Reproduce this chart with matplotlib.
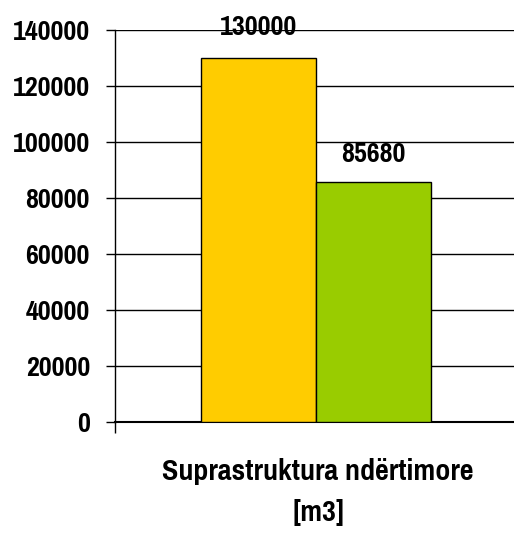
import matplotlib.pyplot as plt

# Datos
series = ["Serie 1", "Serie 2"]
valores = [130000, 85680]
categoria = "Suprastruktura ndërtimore\n[m3]"
colores = ["#FFCC00", "#99CC00"]

FUENTE = ["Pragati Narrow", "Roboto Condensed", "DejaVu Sans"]
plt.rcParams["font.family"] = FUENTE
plt.rcParams["font.weight"] = "bold"
TAM = 22

fig = plt.figure(figsize=(5.14, 5.33), dpi=100)
ax = fig.add_axes([115 / 514, 1 - 422 / 533, 1 - 115 / 514, (422 - 30) / 533])

ancho = 1.0
centro = 1.75
desplazamientos = [-0.5, 0.5]
separacion_etiqueta = [16.5, 14.5]

for i, (s, v) in enumerate(zip(series, valores)):
    x = centro + desplazamientos[i] * ancho
    ax.bar(x, v, width=ancho, color=colores[i], edgecolor="black",
           linewidth=1, zorder=3, label=s)
    ax.annotate(f"{v}", (x, v), xytext=(0, separacion_etiqueta[i]),
                textcoords="offset points", ha="center", va="baseline",
                fontsize=TAM, fontweight="bold", zorder=4)

ax.set_ylim(0, 140000)
ax.set_xlim(0, 399 / 115)
ax.set_yticks(range(0, 140001, 20000))
ax.set_yticklabels([str(t) for t in range(0, 140001, 20000)],
                   fontsize=TAM, fontweight="bold")
ax.grid(axis="y", color="black", linewidth=1, zorder=0)
ax.set_axisbelow(True)

ax.set_xticks([0])
ax.set_xticklabels([""])
ax.tick_params(axis="x", length=8, width=1, direction="out")
ax.tick_params(axis="y", length=6.5, width=1, direction="out", pad=11.5)

for lado in ["top", "right"]:
    ax.spines[lado].set_visible(False)
ax.spines["left"].set_linewidth(1)
ax.spines["bottom"].set_linewidth(1.5)

fig.text(318 / 514, 1 - 492 / 533, categoria, ha="center", va="center",
         fontsize=23.5, fontweight="bold", linespacing=1.6)

fig.savefig("out.png", dpi=100)
